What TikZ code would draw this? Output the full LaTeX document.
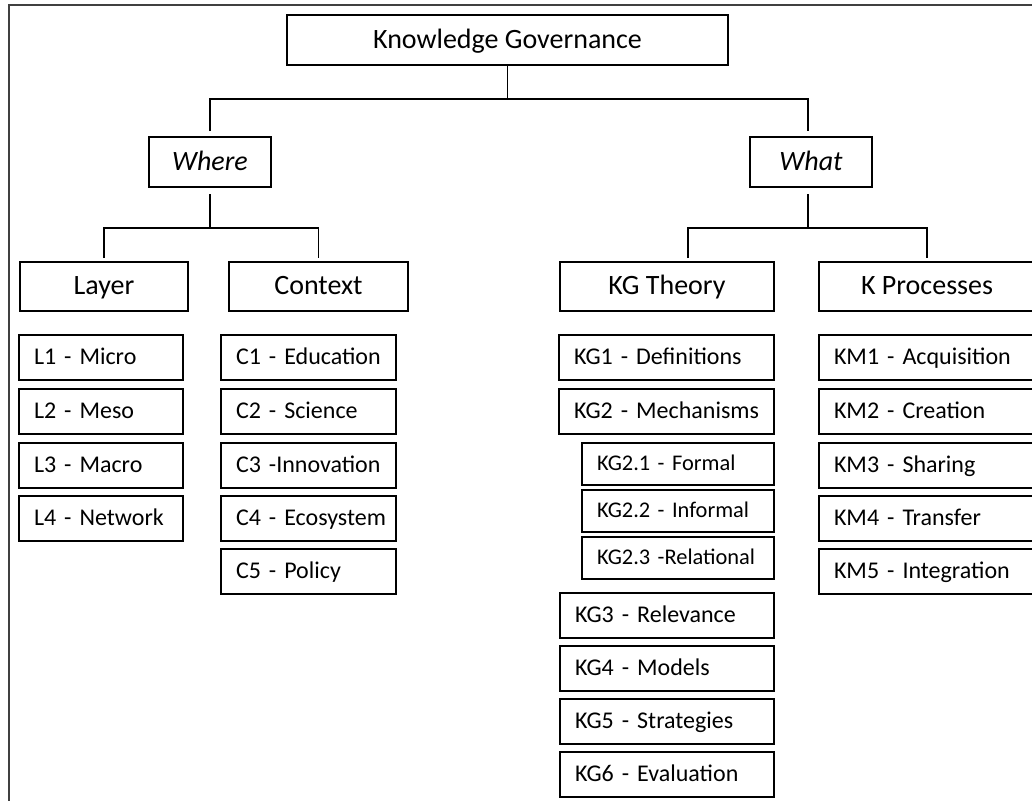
\documentclass[tikz,border=0pt]{standalone}
\usepackage{fontspec}
\setmainfont{Carlito}
\begin{document}
\begin{tikzpicture}[x=0.5pt,y=-0.5pt,
	head/.style={draw,line width=1pt,inner sep=0pt,text height=11pt,text depth=3pt,font=\fontsize{14}{16}\selectfont},
	item/.style={draw,line width=1pt,minimum height=22.5pt,inner ysep=0pt,inner xsep=7.5pt,text height=9.5pt,text depth=2.5pt,align=left,font=\fontsize{12}{14}\selectfont},
	subitem/.style={item,minimum height=21pt,text height=8.8pt,text depth=2.3pt,font=\fontsize{11.2}{13}\selectfont},
	link/.style={line width=0.7pt}]
	\useasboundingbox (0,0) rectangle (1032,800);
	\clip (0,0) rectangle (1032,800);
	% Frame
	\draw[line width=1pt,black!75] (9,810) -- (9,5) -- (1040,5);

	% Top
	\node[head,minimum width=220.5pt,minimum height=25pt] (kg) at (507.5,40) {Knowledge Governance};
	\node[head,minimum width=61pt,minimum height=25pt] (where) at (210,162) {\itshape Where};
	\node[head,minimum width=61pt,minimum height=25pt] (what) at (811,162) {\itshape What};
	\coordinate (top) at (507.5,99);
	\draw[link] (kg.south) -- (top);
	\draw[link,shorten <=2.5pt,shorten >=2.5pt] (where.north) -- (where.north |- top) -- ([xshift=-1.5pt]what.north |- top) -- ([xshift=-1.5pt]what.north);

	% Where
	\node[head,minimum width=84pt,minimum height=24.5pt] (layer) at (104,286.5) {Layer};
	\node[head,minimum width=89.5pt,minimum height=24.5pt] (context) at (318.5,286.5) {Context};
	\coordinate (wbar) at (210,228);
	\draw[link,shorten <=3pt] (where.south) -- (wbar);
	\draw[link,shorten <=1.5pt,shorten >=1.5pt] (layer.north) -- (layer.north |- wbar) -- (context.north |- wbar) -- (context.north);

	% What
	\node[head,minimum width=107pt,minimum height=24.5pt] (kgtheory) at (667,286.5) {KG Theory};
	\node[head,minimum width=108pt,minimum height=24.5pt] (kproc) at (927,286.5) {K Processes};
	\coordinate (wtbar) at (808,228);
	\draw[link,shorten <=3pt] ([xshift=-1.5pt]what.south) -- (wtbar);
	\draw[link,shorten <=1.5pt,shorten >=1.5pt] ([xshift=10.5pt]kgtheory.north) -- ([xshift=10.5pt]kgtheory.north |- wtbar) -- (kproc.north |- wtbar) -- (kproc.north);

	% Layer items
	\node[item,text width=67pt] (l1) at (101,357.5) {\mbox{L1 - Micro}};
	\node[item,text width=67pt] (l2) at (101,411.5) {\mbox{L2 - Meso}};
	\node[item,text width=67pt] (l3) at (101,465) {\mbox{L3 - Macro}};
	\node[item,text width=67pt] (l4) at (101,518.5) {\mbox{L4 - Network}};

	% Context items
	\node[item,text width=72.5pt] (c1) at (308.5,357.5) {\mbox{C1 - Education}};
	\node[item,text width=72.5pt] (c2) at (308.5,411.5) {\mbox{C2 - Science}};
	\node[item,text width=72.5pt] (c3) at (308.5,465) {\mbox{C3 -Innovation}};
	\node[item,text width=72.5pt] (c4) at (308.5,518.5) {\mbox{C4 - Ecosystem}};
	\node[item,text width=72.5pt] (c5) at (308.5,571) {\mbox{C5 - Policy}};

	% KG theory items
	\node[item,text width=92.5pt] (kg1) at (666.5,357.5) {\mbox{KG1 - Definitions}};
	\node[item,text width=92.5pt] (kg2) at (666.5,411.5) {\mbox{KG2 - Mechanisms}};
	\node[subitem,text width=81pt] (kg21) at (678,464) {\mbox{KG2.1 - Formal}};
	\node[subitem,text width=81pt] (kg22) at (678,511) {\mbox{KG2.2 - Informal}};
	\node[subitem,text width=81pt] (kg23) at (678,558) {\mbox{KG2.3 -Relational}};
	\node[item,text width=92pt] (kg3) at (667,615.5) {\mbox{KG3 - Relevance}};
	\node[item,text width=92pt] (kg4) at (667,668.5) {\mbox{KG4 - Models}};
	\node[item,text width=92pt] (kg5) at (667,721.5) {\mbox{KG5 - Strategies}};
	\node[item,text width=92pt] (kg6) at (667,774.5) {\mbox{KG6 - Evaluation}};

	% K processes items
	\node[item,text width=95.5pt] (km1) at (929.5,357.5) {\mbox{KM1 - Acquisition}};
	\node[item,text width=95.5pt] (km2) at (929.5,411.5) {\mbox{KM2 - Creation}};
	\node[item,text width=95.5pt] (km3) at (929.5,465) {\mbox{KM3 - Sharing}};
	\node[item,text width=95.5pt] (km4) at (929.5,518.5) {\mbox{KM4 - Transfer}};
	\node[item,text width=95.5pt] (km5) at (929.5,571) {\mbox{KM5 - Integration}};
\end{tikzpicture}
\end{document}
